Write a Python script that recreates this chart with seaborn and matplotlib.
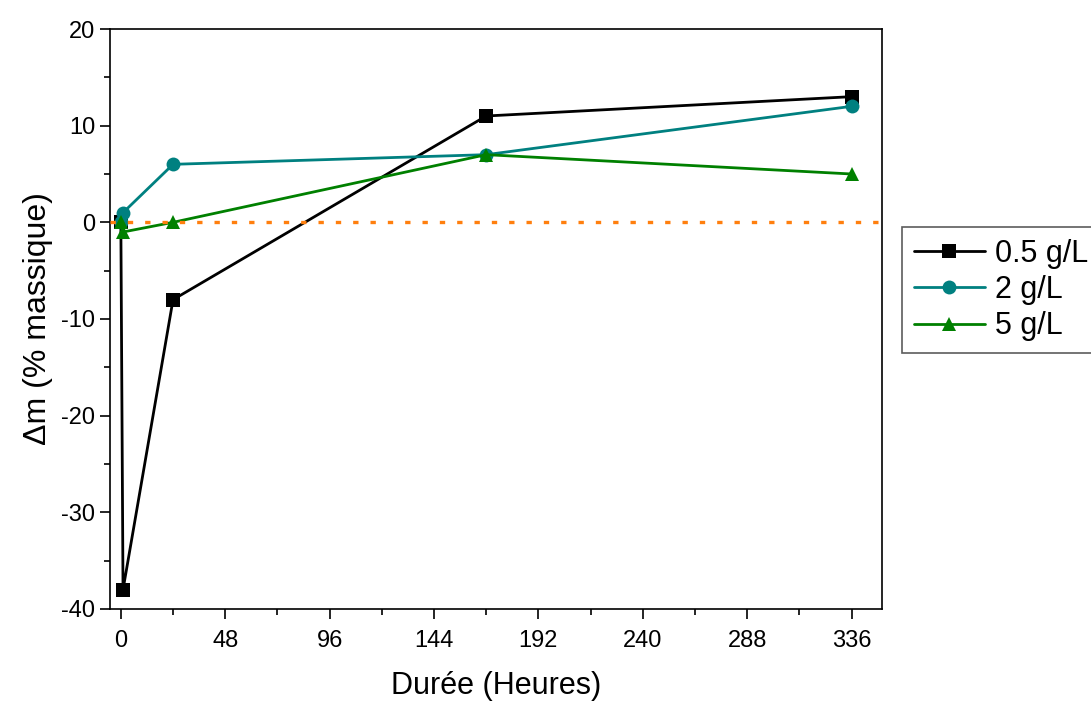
import pandas as pd
import matplotlib.pyplot as plt
import seaborn as sns
from matplotlib.ticker import MultipleLocator


# data
hours = [0, 1, 24, 168, 336]
conc_05 = [0, -38, -8, 11, 13]
conc_2 = [0, 1, 6, 7, 12]
conc_5 = [0, -1, 0, 7, 5]
series_names = ["0.5 g/L", "2 g/L", "5 g/L"]

df = pd.concat([
    pd.DataFrame({"h": hours, "dm": vals, "serie": name})
    for name, vals in zip(series_names, [conc_05, conc_2, conc_5])
])

colors = {"0.5 g/L": "black", "2 g/L": "#008080", "5 g/L": "#008000"}
markers = {"0.5 g/L": "s", "2 g/L": "o", "5 g/L": "^"}


# generate plot
sns.set_style("ticks")
plt.rcParams["font.family"] = ["Liberation Sans", "DejaVu Sans"]
plt.rcParams["axes.unicode_minus"] = False
for k in ["text.color", "axes.labelcolor", "xtick.color", "ytick.color", "axes.edgecolor"]:
    plt.rcParams[k] = "black"

fig = plt.figure(figsize=(10.91, 7.04), dpi=100)
ax = fig.add_axes([0.1008, 0.135, 0.7076, 0.8238])

ax.axhline(0, color="#FF7F0E", lw=2.4, dashes=(1.6, 3.6), zorder=5)
sns.lineplot(data=df, x="h", y="dm", hue="serie", style="serie",
             palette=colors, markers=markers, dashes=False,
             estimator=None, sort=False, lw=2.0, markersize=10,
             markeredgewidth=0, ax=ax)

ax.set_xlim(-5, 350)
ax.set_ylim(-40, 20)
ax.xaxis.set_major_locator(MultipleLocator(48))
ax.xaxis.set_minor_locator(MultipleLocator(24))
ax.yaxis.set_major_locator(MultipleLocator(10))
ax.yaxis.set_minor_locator(MultipleLocator(5))
ax.tick_params(which="major", direction="out", length=7, width=1.2, labelsize=17)
ax.tick_params(axis="x", which="major", pad=8)
ax.tick_params(which="minor", direction="out", length=4, width=1.2)
for s in ax.spines.values():
    s.set_linewidth(1.2)
ax.set_xlabel("Durée (Heures)", fontsize=22, labelpad=14)
ax.set_ylabel("Δm (% massique)", fontsize=23, labelpad=6)

leg = ax.legend(loc="upper left", bbox_to_anchor=(1.026, 0.659), fontsize=22,
                frameon=True, fancybox=False, edgecolor="#333333",
                handlelength=2.3, handletextpad=0.35, borderpad=0.4,
                labelspacing=0.2, borderaxespad=0)
leg.get_frame().set_linewidth(1.2)

plt.savefig("out.png", dpi=100)
